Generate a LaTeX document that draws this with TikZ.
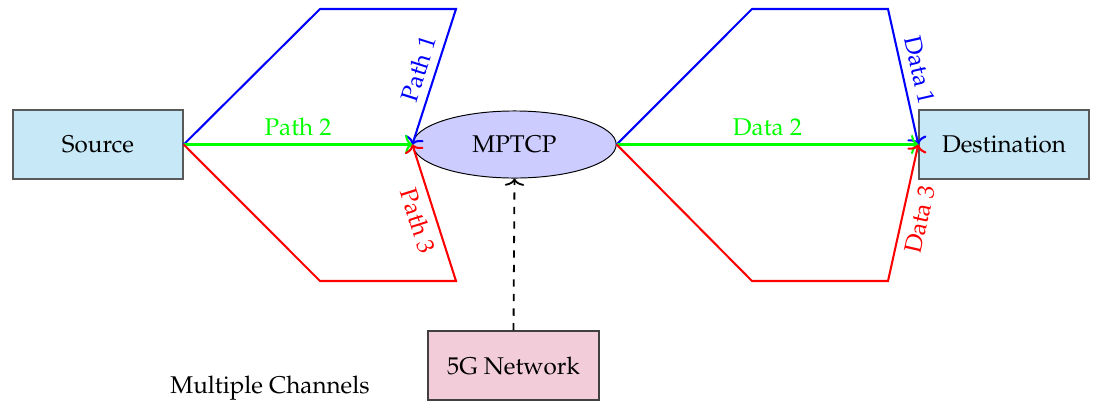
\documentclass[tikz,border=0pt]{standalone}
\usepackage[T1]{fontenc}
\usepackage{mathpazo}
\usetikzlibrary{arrows,arrows.meta,shapes.geometric}

\tikzset{
  endbox/.style={draw=black!65, line width=0.8pt, fill={rgb,255:red,199;green,233;blue,247}, minimum width=70pt, minimum height=28.5pt, inner sep=0pt},
  hubnode/.style={ellipse, draw=black, line width=0.4pt, fill=blue!20, minimum width=84pt, minimum height=27.7pt, inner sep=0pt},
  netbox/.style={draw=black!75, line width=0.6pt, fill=purple!20, minimum width=70.5pt, minimum height=28.5pt, inner sep=0pt},
  channel/.style={-{To[length=3pt,width=8pt]}, line width=0.85pt},
}

\begin{document}
\begin{tikzpicture}[x=0.413pt,y=0.413pt,yscale=-1,xscale=1]
\useasboundingbox (0,0) rectangle (1094,405);

% Nodes
\node [endbox] (src) at (98,144.5) {Source};
\node [endbox] (dst) at (1004,144.5) {Destination};
\node [hubnode] (mptcp) at (514.5,144.5) {MPTCP};
\node [netbox] (net) at (513.5,365.5) {5G Network};
\node (caption) at (270,388) {Multiple Channels};

% Source to MPTCP
\draw [channel, blue] (src.east) -- (320,9) -- (456,9) -- node [rotate=72.4, above, pos=0.48] {Path 1} (mptcp.west);
\draw [channel, green] (src.east) -- node [above, pos=0.5] {Path 2} (mptcp.west);
\draw [channel, red] (src.east) -- (320,281) -- (456,281) -- node [rotate=-72.5, below, pos=0.48] {Path 3} (mptcp.west);

% MPTCP to Destination
\draw [channel, blue] (mptcp.east) -- (752,9) -- (888,9) -- node [rotate=-77.1, above, pos=0.48] {Data 1} (dst.west);
\draw [channel, green] (mptcp.east) -- node [above, pos=0.5] {Data 2} (dst.west);
\draw [channel, red] (mptcp.east) -- (752,281) -- (888,281) -- node [rotate=77.2, below, pos=0.48] {Data 3} (dst.west);

% 5G link
\draw [channel, dashed, black, line width=0.75pt] (net.north) -- (mptcp.south);

\end{tikzpicture}
\end{document}
